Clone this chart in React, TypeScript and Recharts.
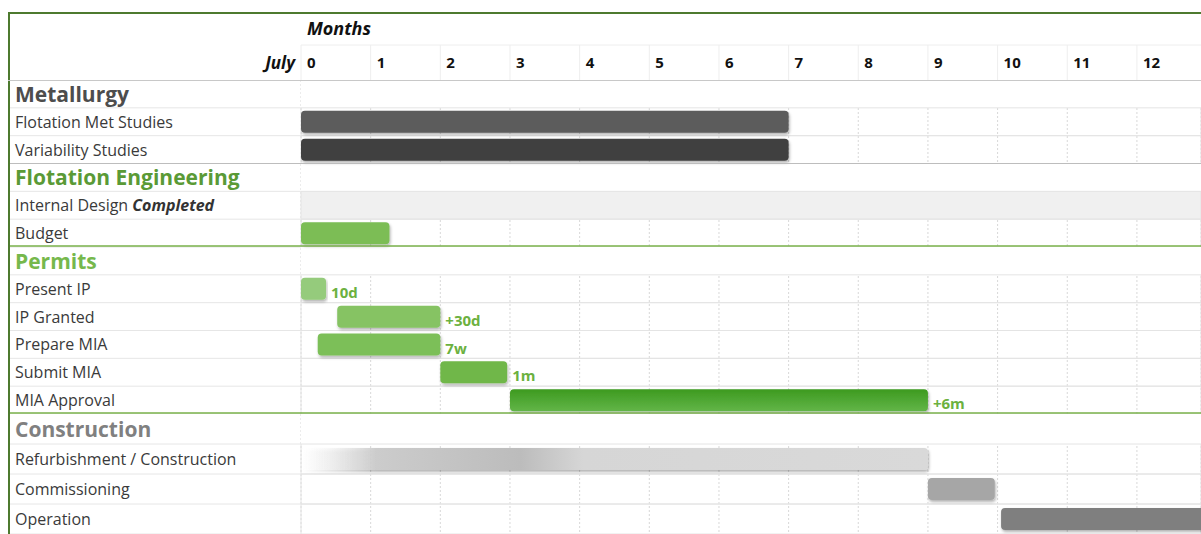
import React from "react"
import {
  BarChart, Bar, XAxis, YAxis, CartesianGrid, Cell, LabelList, ReferenceArea,
} from "recharts"

// page has default 8px margin; the chart is drawn edge to edge
document.body.style.margin = "0"

const FONT = "'Open Sans', 'Noto Sans', sans-serif"

// rows of the schedule, top to bottom
const rowNames = [
  "Metallurgy", "Flotation Met Studies", "Variability Studies",
  "Flotation Engineering", "Internal Design", "Budget",
  "Permits", "Present IP", "IP Granted", "Prepare MIA", "Submit MIA", "MIA Approval",
  "Construction", "Refurbishment / Construction", "Commissioning", "Operation",
]
const sectionRows = ["Metallurgy", "Flotation Engineering", "Permits", "Construction"]
const sectionColors = ["#4d4d4d", "#5a9a36", "#76b84c", "#808080"]

// start / end month of each task (null = no bar)
const taskStart = [null, 0, 0, null, null, 0, null, 0, 0.52, 0.24, 2.0, 3.0, null, 0, 9.0, 10.05]
const taskEnd = [null, 7, 7, null, null, 1.27, null, 0.36, 2.0, 2.0, 2.96, 9.0, null, 9.0, 9.96, 13.5]
const durationNotes = ["", "", "", "", "", "", "", "10d", "+30d", "7w", "1m", "+6m", "", "", "", ""]
const barFills = [
  "none", "#5b5b5b", "#3f3f3f", "none", "none", "#7bbd55", "none", "#95cb7b", "#86c364",
  "#7cbf58", "#70b748", "url(#miaGrad)", "none", "url(#refurbGrad)", "#a6a6a6", "#7f7f7f",
]

const months = [0, 1, 2, 3, 4, 5, 6, 7, 8, 9, 10, 11, 12]

const rows = rowNames.map((name, i) => ({
  name,
  range: taskStart[i] == null ? null : [taskStart[i], taskEnd[i]],
  note: durationNotes[i],
  fill: barFills[i],
}))
// the construction block has taller rows, so it gets its own chart
const planRows = rows.slice(0, 12)
const buildRows = rows.slice(12)

const W = 1201
const PLOT_LEFT = 301

function MonthTick(props: any) {
  const { x, payload, index } = props
  return (
    <g>
      {index === 0 && (
        <>
          <text x={x + 6} y={28} dominantBaseline="central" fontFamily={FONT} fontSize={18}
            fontWeight={700} fontStyle="italic" fill="#111">Months</text>
          <text x={x - 6} y={62} textAnchor="end" dominantBaseline="central" fontFamily={FONT}
            fontSize={17} fontWeight={700} fontStyle="italic" fill="#111">July</text>
          <line x1={x} x2={W} y1={45} y2={45} stroke="#eeeeee" />
        </>
      )}
      <line x1={x} x2={x} y1={45} y2={80} stroke="#eeeeee" />
      <text x={x + 6} y={62} dominantBaseline="central" fontFamily={FONT} fontSize={15}
        fontWeight={700} fill="#111">{payload.value}</text>
    </g>
  )
}

function RowTick(props: any) {
  const { y, payload, band } = props
  const name = payload.value as string
  const s = sectionRows.indexOf(name)
  const bottom = y + band / 2
  const green = name === "Budget" || name === "MIA Approval"
  const grey = name === "Variability Studies"
  return (
    <g>
      <line x1={8} x2={PLOT_LEFT} y1={bottom} y2={bottom} stroke="#e6e6e6" />
      {green && <line x1={8} x2={W} y1={bottom - 1} y2={bottom - 1} stroke="#78b04a" strokeWidth={1.5} />}
      {grey && <line x1={8} x2={W} y1={bottom} y2={bottom} stroke="#bdbdbd" strokeWidth={1.2} />}
      {s >= 0 ? (
        <text x={15} y={y} dominantBaseline="central" fontFamily={FONT} fontSize={21}
          fontWeight={700} fill={sectionColors[s]}>{name}</text>
      ) : (
        <text x={15} y={y} dominantBaseline="central" fontFamily={FONT} fontSize={16} fill="#3a3a3a">
          {name}
          {name === "Internal Design" && (
            <tspan fontWeight={700} fontStyle="italic" fill="#333"> Completed</tspan>
          )}
        </text>
      )}
    </g>
  )
}

function NoteLabel(props: any) {
  const { x, y, width, height, value } = props
  if (!value) return null
  return (
    <text x={x + width + 5} y={y + height / 2 + 3} dominantBaseline="central" fontFamily={FONT}
      fontSize={15} fontWeight={700} fill="#6cb13f">{value}</text>
  )
}

function Defs() {
  return (
    <defs>
      <linearGradient id="miaGrad" x1="0" y1="0" x2="0" y2="1">
        <stop offset="0%" stopColor="#3d9a1f" />
        <stop offset="100%" stopColor="#62b548" />
      </linearGradient>
      <linearGradient id="refurbGrad" x1="0" y1="0" x2="1" y2="0">
        <stop offset="0%" stopColor="#ffffff" stopOpacity={0} />
        <stop offset="12%" stopColor="#cccccc" />
        <stop offset="35%" stopColor="#bcbcbc" />
        <stop offset="45%" stopColor="#d6d6d6" />
        <stop offset="100%" stopColor="#d9d9d9" />
      </linearGradient>
      <filter id="barShadow" x="-5%" y="-30%" width="110%" height="170%">
        <feDropShadow dx="1" dy="2" stdDeviation="1.4" floodColor="#000" floodOpacity="0.3" />
      </filter>
    </defs>
  )
}

function GanttBlock({ data, height, header }: { data: typeof rows; height: number; header: boolean }) {
  const top = header ? 12 : 0
  const axisH = header ? 68 : 0
  const band = (height - top - axisH) / data.length
  return (
    <BarChart
      width={W}
      height={height}
      data={data}
      layout="vertical"
      margin={{ top, right: 0, bottom: 0, left: 8 }}
      barSize={22}
    >
      <Defs />
      <CartesianGrid horizontal={false} stroke="#d8d8d8" strokeDasharray="2 2" />
      <XAxis
        type="number"
        orientation="top"
        domain={[0, 12.92]}
        ticks={months}
        allowDataOverflow
        hide={!header}
        height={axisH}
        axisLine={false}
        tickLine={false}
        tick={<MonthTick />}
      />
      <YAxis
        type="category"
        dataKey="name"
        width={293}
        axisLine={false}
        tickLine={false}
        interval={0}
        tick={<RowTick band={band} />}
      />
      {data.map(({ name }) =>
        sectionRows.includes(name) ? (
          <ReferenceArea key={name} y1={name} y2={name} fill="#ffffff" fillOpacity={1} stroke="none" />
        ) : name === "Internal Design" ? (
          <ReferenceArea key={name} y1={name} y2={name} fill="#f0f0f0" fillOpacity={1} stroke="#e4e4e4" />
        ) : (
          <ReferenceArea key={name} y1={name} y2={name} fill="none" stroke="#e4e4e4" />
        )
      )}
      <Bar dataKey="range" radius={4} isAnimationActive={false}>
        {data.map((d, i) => (
          <Cell key={i} fill={d.fill} filter="url(#barShadow)" />
        ))}
        <LabelList dataKey="note" content={<NoteLabel />} />
      </Bar>
    </BarChart>
  )
}

export default function App() {
  return (
    <div style={{ position: "relative", width: W, height: 534, overflow: "hidden", background: "#fff" }}>
      <GanttBlock data={planRows} height={414} header />
      <GanttBlock data={buildRows} height={120} header={false} />
      <div
        style={{
          position: "absolute", left: 8, top: 12, right: 0, bottom: 0,
          borderTop: "2px solid #4d7a2f", borderLeft: "2px solid #4d7a2f", pointerEvents: "none",
        }}
      />
      <div
        style={{
          position: "absolute", left: 8, top: 80, right: 0, height: 0,
          borderTop: "1px solid #c8c8c8", pointerEvents: "none",
        }}
      />
    </div>
  )
}
